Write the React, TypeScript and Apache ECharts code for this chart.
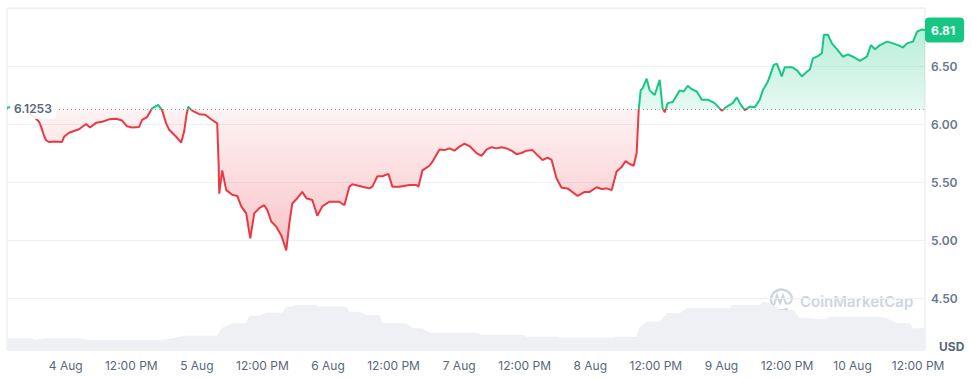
import React, { useEffect, useRef } from "react";
import * as echarts from "echarts";

// Baseline (opening price) and last price
const BASELINE = 6.1253;
const LAST_PRICE = 6.81;

// Hours relative to 4 Aug 00:00
const priceHours = [
  -10.75, -9.66, -8.56, -7.27, -5.99, -4.89, -4.53, -3.98, -3.61, -3.06, -1.96, -0.68, -0.31, 0.6, 2.44, 3.72,
  4.45, 5.55, 6.65, 7.93, 9.22, 10.32, 11.23, 12.15, 13.43, 13.98, 14.9, 15.81, 16.36, 16.91, 17.64, 18.38,
  18.93, 20.21, 21.13, 21.67, 22.04, 22.41, 23.14, 24.42, 25.52, 26.8, 27.72, 28.0, 28.09, 28.64, 29.37, 30.47,
  31.39, 32.12, 33.03, 33.77, 34.5, 35.42, 36.33, 36.88, 37.61, 38.53, 39.45, 40.36, 40.91, 41.46, 42.38, 43.29,
  44.03, 45.13, 46.04, 46.96, 48.24, 50.07, 50.99, 51.91, 52.46, 54.29, 55.57, 56.12, 57.04, 57.95, 59.05, 59.78,
  61.07, 62.9, 64.18, 64.55, 65.28, 66.56, 67.11, 68.4, 69.31, 70.23, 71.14, 72.06, 72.98, 73.89, 75.17, 76.09,
  77.01, 77.92, 78.84, 79.75, 80.67, 81.59, 82.5, 83.42, 84.34, 85.44, 86.35, 87.27, 88.18, 88.92, 89.83, 90.75,
  91.85, 93.68, 94.96, 95.88, 97.16, 98.08, 98.99, 99.91, 100.82, 101.74, 102.47, 103.21, 103.94, 104.49, 104.86, 105.22,
  105.59, 106.32, 106.87, 107.79, 108.7, 109.25, 109.62, 110.17, 111.09, 112.37, 113.1, 113.83, 114.57, 115.48, 116.4, 117.5,
  118.78, 120.06, 121.16, 122.08, 122.81, 123.36, 124.28, 125.19, 126.11, 127.03, 127.57, 128.49, 129.59, 130.14, 131.05, 131.6,
  132.89, 133.8, 134.72, 135.64, 136.19, 136.74, 137.65, 138.39, 138.75, 139.49, 140.22, 141.13, 142.23, 143.15, 144.07, 145.35,
  146.63, 147.36, 148.1, 149.01, 150.3, 151.39, 152.31, 153.23, 153.96, 155.06, 155.79, 156.71, 157.26,
];
const priceValues = [
  6.14, 6.15, 6.16, 6.12, 6.07, 6.02, 5.98, 5.9, 5.86, 5.845, 5.85, 5.845, 5.89, 5.925, 5.955, 6.0,
  5.97, 6.01, 6.02, 6.04, 6.045, 6.03, 5.98, 5.97, 5.975, 6.035, 6.06, 6.135, 6.15, 6.165, 6.12, 6.005,
  5.95, 5.89, 5.84, 5.935, 6.06, 6.15, 6.115, 6.085, 6.08, 6.035, 6.005, 5.63, 5.4, 5.6, 5.43, 5.39,
  5.38, 5.29, 5.23, 5.015, 5.23, 5.275, 5.3, 5.26, 5.16, 5.115, 5.04, 4.91, 5.14, 5.315, 5.36, 5.415,
  5.36, 5.345, 5.21, 5.29, 5.33, 5.33, 5.3, 5.46, 5.48, 5.46, 5.445, 5.46, 5.55, 5.55, 5.57, 5.46,
  5.46, 5.475, 5.475, 5.46, 5.6, 5.64, 5.675, 5.78, 5.775, 5.79, 5.77, 5.805, 5.83, 5.81, 5.75, 5.725,
  5.78, 5.8, 5.79, 5.8, 5.79, 5.77, 5.74, 5.75, 5.77, 5.775, 5.73, 5.69, 5.71, 5.69, 5.53, 5.45,
  5.445, 5.38, 5.415, 5.415, 5.455, 5.44, 5.445, 5.43, 5.59, 5.63, 5.68, 5.655, 5.64, 5.75, 6.12, 6.29,
  6.31, 6.39, 6.29, 6.25, 6.38, 6.135, 6.1, 6.18, 6.19, 6.29, 6.28, 6.33, 6.3, 6.28, 6.21, 6.21,
  6.18, 6.115, 6.155, 6.18, 6.23, 6.18, 6.12, 6.15, 6.145, 6.21, 6.29, 6.365, 6.51, 6.52, 6.41, 6.49,
  6.49, 6.465, 6.41, 6.45, 6.47, 6.565, 6.585, 6.61, 6.77, 6.77, 6.695, 6.645, 6.58, 6.6, 6.58, 6.545,
  6.58, 6.68, 6.645, 6.68, 6.71, 6.695, 6.68, 6.66, 6.695, 6.71, 6.795, 6.815, 6.81,
];

// Volume (M USD), hours relative to 4 Aug 00:00
const volumeHours = [
  -10.75, -6.17, -5.62, -3.61, 2.44, 4.27, 17.09, 18.93, 21.67, 27.72, 28.45, 30.47, 33.03, 33.58, 35.42, 36.7,
  39.63, 40.36, 41.46, 42.2, 45.86, 46.41, 51.36, 51.91, 53.74, 55.02, 57.4, 57.95, 62.35, 63.45, 65.28, 66.56,
  75.35, 76.09, 83.61, 84.34, 89.83, 90.38, 100.09, 100.82, 104.49, 105.04, 106.32, 108.7, 109.99, 112.37, 113.65, 121.53,
  122.08, 127.03, 127.57, 128.86, 130.69, 133.07, 134.35, 136.74, 137.47, 139.3, 139.85, 149.01, 150.3, 152.13, 154.51, 155.06,
  157.26,
];
const volumeValues = [
  23.4, 23.4, 20, 23.4, 23.4, 20, 20, 22, 28.6, 28.6, 43.4, 53.4, 53.4, 68, 68, 74.6,
  74.6, 86.6, 86.6, 90, 90, 86.6, 86.6, 76.6, 76.6, 70, 70, 53.4, 53.4, 43.4, 43.4, 34.6,
  34.6, 30, 30, 26.6, 26.6, 24.6, 24.6, 26.6, 26.6, 46.6, 56.6, 56.6, 73.4, 73.4, 83.4, 83.4,
  90, 90, 96.6, 94, 80, 80, 63.4, 63.4, 61.4, 61.4, 66.6, 66.6, 63.4, 53.4, 53.4, 43.4,
  43.4,
];

// X tick positions (hours since 4 Aug 00:00)
const tickHours = [0, 12, 24, 36, 48, 60, 72, 84, 96, 108, 120, 132, 144, 156];
const X_MIN = -10.75;
const X_MAX = 157.26;
const Y_MIN = 4.052;
const Y_MAX = 7.0;

const GREEN = "#16c784";
const RED = "#ea3943";
const TEXT = "#58667e";

function tickLabel(h: number): string {
  if (h % 24 === 0) return `${4 + h / 24} Aug`;
  return "12:00 PM";
}

export default function App() {
  const ref = useRef<HTMLDivElement>(null);

  useEffect(() => {
    if (!ref.current) return;
    const chart = echarts.init(ref.current, undefined, { renderer: "svg" });

    const priceData = priceHours.map((h, i) => [h, priceValues[i]]);
    const volumeData = volumeHours.map((h, i) => [h, volumeValues[i]]);
    const pMax = Math.max(...priceValues);
    const pMin = Math.min(...priceValues);
    const off = (pMax - BASELINE) / (pMax - pMin);

    const lineGrad = new echarts.graphic.LinearGradient(0, 0, 0, 1, [
      { offset: 0, color: GREEN },
      { offset: off, color: GREEN },
      { offset: off, color: RED },
      { offset: 1, color: RED },
    ]);
    const areaGrad = new echarts.graphic.LinearGradient(0, 0, 0, 1, [
      { offset: 0, color: "rgba(22,199,132,0.30)" },
      { offset: off, color: "rgba(22,199,132,0.11)" },
      { offset: off, color: "rgba(234,57,67,0.06)" },
      { offset: 1, color: "rgba(234,57,67,0.30)" },
    ]);

    chart.setOption({
      animation: false,
      textStyle: { fontFamily: "Inter, 'Noto Sans', sans-serif" },
      grid: [
        { left: 7, right: 46, top: 8, bottom: 28, show: true, borderColor: "#e6e8ec", borderWidth: 1 },
        { left: 7, right: 46, top: 300, bottom: 28 },
      ],
      xAxis: [
        {
          type: "value",
          gridIndex: 0,
          min: X_MIN,
          max: X_MAX,
          axisLine: { show: false },
          axisTick: { show: false },
          splitLine: { show: false },
          axisLabel: {
            customValues: tickHours,
            formatter: (v: number) => tickLabel(v),
            color: TEXT,
            fontSize: 12,
            margin: 9,
          },
        },
        {
          type: "value",
          gridIndex: 1,
          min: X_MIN,
          max: X_MAX,
          show: false,
        },
      ],
      yAxis: [
        {
          type: "value",
          gridIndex: 0,
          position: "right",
          min: Y_MIN,
          max: Y_MAX,
          splitNumber: 5,
          axisLine: { show: false },
          axisTick: { show: false },
          splitLine: { lineStyle: { color: "#eff1f4" } },
          axisLabel: {
            showMinLabel: false,
            showMaxLabel: false,
            formatter: (v: number) => v.toFixed(2),
            color: "#6a7790",
            fontSize: 12,
            fontWeight: 600,
            margin: 6,
          },
        },
        { type: "value", gridIndex: 1, min: 0, max: 100, show: false },
      ],
      series: [
        {
          type: "line",
          xAxisIndex: 1,
          yAxisIndex: 1,
          data: volumeData,
          showSymbol: false,
          lineStyle: { width: 0 },
          areaStyle: { color: "#eef0f4", opacity: 1 },
          silent: true,
          z: 1,
        },
        {
          type: "line",
          xAxisIndex: 0,
          yAxisIndex: 0,
          data: priceData,
          showSymbol: false,
          lineStyle: { width: 2, color: lineGrad },
          areaStyle: { origin: BASELINE, color: areaGrad, opacity: 1 },
          z: 3,
          markLine: {
            silent: true,
            symbol: ["none", "none"],
            data: [
              {
                yAxis: BASELINE,
                lineStyle: { type: [1, 3], color: "#9aa3b2", width: 1 },
                label: {
                  show: true,
                  position: "insideStart",
                  distance: 3,
                  formatter: String(BASELINE),
                  color: TEXT,
                  fontSize: 12,
                  fontWeight: 600,
                  backgroundColor: "rgba(255,255,255,0.9)",
                  padding: [4, 4],
                  borderRadius: 4,
                },
              },
              {
                yAxis: LAST_PRICE,
                lineStyle: { color: "rgba(0,0,0,0)", width: 1, opacity: 1 },
                label: {
                  show: true,
                  position: "end",
                  distance: 0,
                  opacity: 1,
                  formatter: LAST_PRICE.toFixed(2),
                  color: "#ffffff",
                  fontSize: 12,
                  fontWeight: 700,
                  backgroundColor: GREEN,
                  padding: [7, 9, 6, 6],
                  borderRadius: 4,
                },
              },
            ],
          },
        },
      ],
      graphic: [
        {
          type: "group",
          z: 10,
          silent: true,
          children: [
            {
              type: "arc",
              shape: { cx: 781.5, cy: 300, r: 10.5, startAngle: Math.PI * 0.3, endAngle: Math.PI * 2, clockwise: true },
              style: { stroke: "#cfd5de", lineWidth: 2.5, fill: "none" },
            },
            {
              type: "polyline",
              shape: { points: [[774, 305], [777, 295.5], [780, 303], [783, 295.5], [786, 303.5], [789, 303.5], [792, 300.5]] },
              style: { stroke: "#cfd5de", lineWidth: 2.2, fill: "none" },
            },
            {
              type: "text",
              x: 800,
              y: 301.5,
              style: {
                text: "CoinMarketCap",
                fill: "#cfd5de",
                fontSize: 15,
                fontWeight: 600,
                fontFamily: "Inter, sans-serif",
                verticalAlign: "middle",
              },
            },
          ],
        },
        {
          type: "text",
          x: 939,
          y: 346,
          style: {
            text: "USD",
            fill: TEXT,
            fontSize: 12,
            fontWeight: 700,
            fontFamily: "Inter, sans-serif",
            verticalAlign: "middle",
          },
        },
      ],
    });

    return () => chart.dispose();
  }, []);

  return (
    <div
      ref={ref}
      style={{ position: "absolute", left: 0, top: 0, width: 971, height: 378 }}
    />
  );
}
